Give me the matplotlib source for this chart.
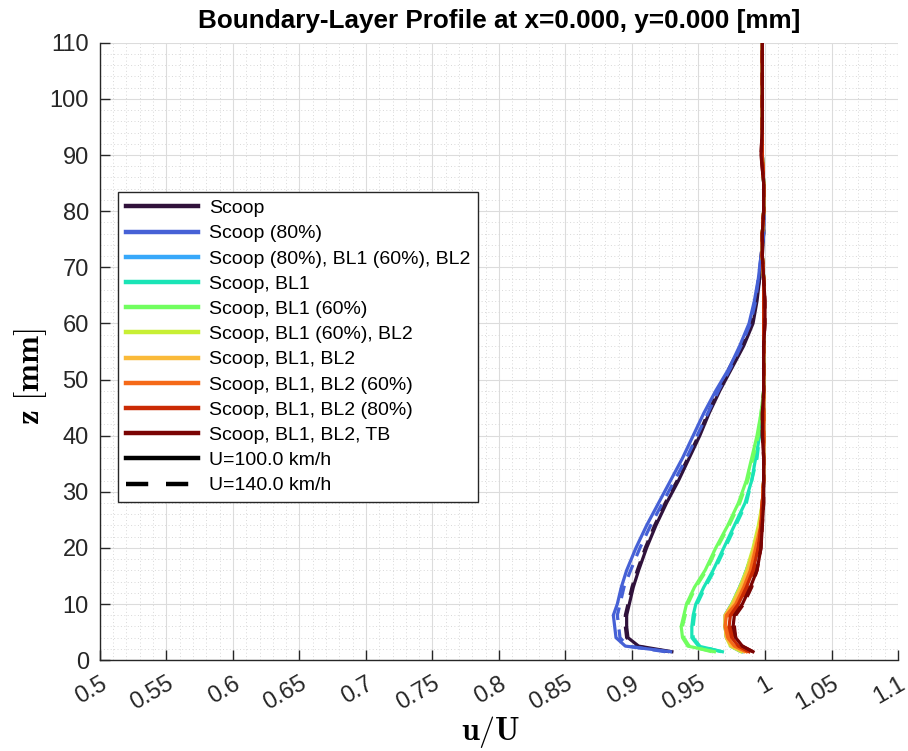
import numpy as np
import matplotlib
matplotlib.use("Agg")
import matplotlib.pyplot as plt
from matplotlib.lines import Line2D
from matplotlib.ticker import MultipleLocator

# ---------------- data ----------------
z_mm = [1.5, 2.5, 4, 6, 8, 10, 13, 16, 20, 24, 28, 32, 36, 40, 44, 48, 52, 56,
        60, 64, 68, 72, 76, 80, 85, 90, 95, 100, 105, 110]

configs = ["Scoop", "Scoop (80%)", "Scoop (80%), BL1 (60%), BL2", "Scoop, BL1",
           "Scoop, BL1 (60%)", "Scoop, BL1 (60%), BL2", "Scoop, BL1, BL2",
           "Scoop, BL1, BL2 (60%)", "Scoop, BL1, BL2 (80%)", "Scoop, BL1, BL2, TB"]
speeds = ["U=100.0 km/h", "U=140.0 km/h"]

scoop_100 = [0.930, 0.905, 0.897, 0.896, 0.896, 0.898, 0.901, 0.905, 0.911, 0.918, 0.926, 0.935, 0.943, 0.951, 0.958, 0.966, 0.975, 0.984,
             0.991, 0.994, 0.996, 0.998, 0.999, 0.999, 0.999, 0.998, 0.998, 0.998, 0.998, 0.998]
scoop_140 = [0.928, 0.903, 0.896, 0.895, 0.895, 0.897, 0.900, 0.904, 0.910, 0.917, 0.925, 0.934, 0.942, 0.950, 0.957, 0.965, 0.973, 0.982,
             0.990, 0.993, 0.996, 0.997, 0.999, 0.999, 0.999, 0.998, 0.998, 0.998, 0.998, 0.998]
scoop80_100 = [0.929, 0.895, 0.888, 0.887, 0.886, 0.889, 0.892, 0.896, 0.903, 0.911, 0.920, 0.929, 0.938, 0.946, 0.954, 0.963, 0.973, 0.981,
               0.988, 0.992, 0.995, 0.997, 0.999, 0.999, 0.999, 0.998, 0.998, 0.998, 0.998, 0.998]
scoop80_140 = [0.925, 0.897, 0.891, 0.890, 0.889, 0.891, 0.894, 0.899, 0.906, 0.914, 0.923, 0.932, 0.941, 0.949, 0.957, 0.965, 0.974, 0.982,
               0.989, 0.993, 0.995, 0.997, 0.999, 0.999, 0.999, 0.998, 0.998, 0.998, 0.998, 0.998]
scoop80_bl160_bl2_100 = [0.983, 0.975, 0.971, 0.970, 0.970, 0.975, 0.981, 0.986, 0.992, 0.996, 0.998, 0.999, 0.999, 0.999, 0.999, 0.999, 0.999, 0.999,
                         0.999, 0.999, 0.999, 0.998, 0.998, 0.999, 0.999, 0.998, 0.998, 0.998, 0.998, 0.998]
scoop80_bl160_bl2_140 = [0.982, 0.974, 0.971, 0.970, 0.970, 0.975, 0.981, 0.986, 0.992, 0.996, 0.998, 0.999, 0.999, 0.999, 0.999, 0.999, 0.999, 0.999,
                         0.999, 0.999, 0.999, 0.998, 0.998, 0.999, 0.999, 0.998, 0.998, 0.998, 0.998, 0.998]
scoop_bl1_100 = [0.968, 0.950, 0.945, 0.945, 0.946, 0.948, 0.954, 0.961, 0.969, 0.977, 0.985, 0.990, 0.993, 0.996, 0.998, 0.999, 0.999, 0.999,
                 0.999, 0.999, 0.999, 0.998, 0.998, 0.999, 0.999, 0.998, 0.998, 0.998, 0.998, 0.998]
scoop_bl1_140 = [0.967, 0.951, 0.946, 0.946, 0.947, 0.949, 0.955, 0.962, 0.970, 0.978, 0.986, 0.990, 0.994, 0.996, 0.998, 0.999, 0.999, 0.999,
                 0.999, 0.999, 0.999, 0.998, 0.998, 0.999, 0.999, 0.998, 0.998, 0.998, 0.998, 0.998]
scoop_bl160_100 = [0.962, 0.942, 0.938, 0.937, 0.939, 0.941, 0.947, 0.955, 0.963, 0.972, 0.980, 0.986, 0.990, 0.994, 0.997, 0.999, 0.999, 0.999,
                   0.999, 0.999, 0.999, 0.998, 0.998, 0.999, 0.999, 0.998, 0.998, 0.998, 0.998, 0.998]
scoop_bl160_140 = [0.960, 0.943, 0.939, 0.938, 0.940, 0.942, 0.948, 0.956, 0.964, 0.973, 0.981, 0.987, 0.991, 0.995, 0.997, 0.999, 0.999, 0.999,
                   0.999, 0.999, 0.999, 0.998, 0.998, 0.999, 0.999, 0.998, 0.998, 0.998, 0.998, 0.998]
scoop_bl160_bl2_100 = [0.982, 0.974, 0.971, 0.970, 0.970, 0.975, 0.981, 0.986, 0.991, 0.995, 0.998, 0.999, 0.999, 0.999, 0.999, 0.999, 0.999, 0.999,
                       0.999, 0.999, 0.999, 0.998, 0.998, 0.999, 0.999, 0.998, 0.998, 0.998, 0.998, 0.998]
scoop_bl160_bl2_140 = [0.983, 0.975, 0.971, 0.970, 0.971, 0.976, 0.982, 0.987, 0.992, 0.996, 0.998, 0.999, 0.999, 0.999, 0.999, 0.999, 0.999, 0.999,
                       0.999, 0.999, 0.999, 0.998, 0.998, 0.999, 0.999, 0.998, 0.998, 0.998, 0.998, 0.998]
scoop_bl1_bl2_100 = [0.984, 0.975, 0.971, 0.970, 0.970, 0.976, 0.982, 0.987, 0.992, 0.996, 0.998, 0.999, 0.999, 0.999, 0.999, 0.999, 0.999, 0.999,
                     0.999, 0.999, 0.999, 0.998, 0.998, 0.999, 0.999, 0.998, 0.998, 0.998, 0.998, 0.998]
scoop_bl1_bl2_140 = [0.985, 0.976, 0.972, 0.971, 0.971, 0.977, 0.983, 0.988, 0.993, 0.996, 0.998, 0.999, 0.999, 0.999, 0.999, 0.999, 0.999, 0.999,
                     0.999, 0.999, 0.999, 0.998, 0.998, 0.999, 0.999, 0.998, 0.998, 0.998, 0.998, 0.998]
scoop_bl1_bl260_100 = [0.986, 0.977, 0.972, 0.970, 0.971, 0.978, 0.984, 0.989, 0.993, 0.997, 0.998, 0.999, 0.999, 0.999, 0.999, 0.999, 0.999, 0.999,
                       0.999, 0.999, 0.999, 0.998, 0.998, 0.999, 0.999, 0.998, 0.998, 0.998, 0.998, 0.998]
scoop_bl1_bl260_140 = [0.987, 0.978, 0.973, 0.971, 0.972, 0.979, 0.985, 0.990, 0.994, 0.997, 0.998, 0.999, 0.999, 0.999, 0.999, 0.999, 0.999, 0.999,
                       0.999, 0.999, 0.999, 0.998, 0.998, 0.999, 0.999, 0.998, 0.998, 0.998, 0.998, 0.998]
scoop_bl1_bl280_100 = [0.988, 0.980, 0.975, 0.973, 0.974, 0.980, 0.986, 0.991, 0.995, 0.997, 0.998, 0.999, 0.999, 0.999, 0.999, 0.999, 0.999, 0.999,
                       0.999, 0.999, 0.999, 0.998, 0.998, 0.999, 0.999, 0.998, 0.998, 0.998, 0.998, 0.998]
scoop_bl1_bl280_140 = [0.989, 0.981, 0.976, 0.974, 0.975, 0.981, 0.987, 0.992, 0.995, 0.997, 0.998, 0.999, 0.999, 0.999, 0.999, 0.999, 0.999, 0.999,
                       0.999, 0.999, 0.999, 0.998, 0.998, 0.999, 0.999, 0.998, 0.998, 0.998, 0.998, 0.998]
scoop_bl1_bl2_tb_100 = [0.991, 0.983, 0.978, 0.976, 0.977, 0.983, 0.989, 0.994, 0.997, 0.998, 0.999, 0.999, 0.999, 0.998, 0.998, 0.999, 0.999, 0.999,
                        1.000, 1.000, 0.999, 0.998, 0.998, 0.999, 0.999, 0.997, 0.998, 0.998, 0.998, 0.998]
scoop_bl1_bl2_tb_140 = [0.991, 0.983, 0.978, 0.977, 0.978, 0.984, 0.990, 0.994, 0.997, 0.998, 0.999, 0.999, 0.999, 0.998, 0.998, 0.999, 0.999, 0.999,
                        1.000, 1.000, 0.999, 0.998, 0.998, 0.999, 0.999, 0.997, 0.998, 0.998, 0.998, 0.998]

profiles = [
    (scoop_100, scoop_140),
    (scoop80_100, scoop80_140),
    (scoop80_bl160_bl2_100, scoop80_bl160_bl2_140),
    (scoop_bl1_100, scoop_bl1_140),
    (scoop_bl160_100, scoop_bl160_140),
    (scoop_bl160_bl2_100, scoop_bl160_bl2_140),
    (scoop_bl1_bl2_100, scoop_bl1_bl2_140),
    (scoop_bl1_bl260_100, scoop_bl1_bl260_140),
    (scoop_bl1_bl280_100, scoop_bl1_bl280_140),
    (scoop_bl1_bl2_tb_100, scoop_bl1_bl2_tb_140),
]

x_ticks = [0.5, 0.55, 0.6, 0.65, 0.7, 0.75, 0.8, 0.85, 0.9, 0.95, 1.0, 1.05, 1.1]
x_tick_labels = ["0.5", "0.55", "0.6", "0.65", "0.7", "0.75", "0.8", "0.85", "0.9", "0.95", "1", "1.05", "1.1"]
y_ticks = [0, 10, 20, 30, 40, 50, 60, 70, 80, 90, 100, 110]

# ---------------- figure ----------------
plt.rcParams["font.family"] = ["Liberation Sans", "DejaVu Sans"]
plt.rcParams["mathtext.fontset"] = "cm"

fig = plt.figure(figsize=(9.08, 7.51), dpi=100)
ax = fig.add_axes([0.110, 0.121, 0.879, 0.822])

colors = plt.cm.turbo(np.linspace(0, 1, len(configs)))
lw = 2.3
for (u100, u140), c in zip(profiles, colors):
    ax.plot(u100, z_mm, color=c, lw=lw, ls="-", solid_joinstyle="round")
    ax.plot(u140, z_mm, color=c, lw=lw, ls=(0, (4, 3)))

ax.set_xlim(0.5, 1.1)
ax.set_ylim(0, 110)
ax.set_xticks(x_ticks)
ax.set_xticklabels(x_tick_labels, rotation=30, ha="right", rotation_mode="anchor")
ax.set_yticks(y_ticks)
ax.xaxis.set_minor_locator(MultipleLocator(0.01))
ax.yaxis.set_minor_locator(MultipleLocator(2))

ax.grid(True, which="major", color="#dcdcdc", lw=0.8, ls="-")
ax.grid(True, which="minor", color="#d8d8d8", lw=0.7, ls=(0, (1, 2.5)))
ax.set_axisbelow(True)

for s in ["top", "right"]:
    ax.spines[s].set_visible(False)
for s in ["left", "bottom"]:
    ax.spines[s].set_color("#262626")
    ax.spines[s].set_linewidth(1.0)

ax.tick_params(which="major", direction="in", length=7, width=1.0, colors="#262626",
               labelsize=17, labelcolor="#262626")
ax.tick_params(which="minor", length=0)
ax.tick_params(axis="x", pad=9)
ax.tick_params(axis="y", pad=8)

ax.set_title("Boundary-Layer Profile at x=0.000, y=0.000 [mm]", fontsize=18.8,
             fontweight="bold", color="black", pad=11)
ax.set_xlabel(r"$\mathbf{u/U}$", fontsize=23)
ax.set_ylabel(r"$\mathbf{z}\ [\mathbf{mm}]$", fontsize=24)
ax.xaxis.set_label_coords(0.489, -0.117, transform=ax.transAxes)
ax.yaxis.set_label_coords(-0.0865, 0.459, transform=ax.transAxes)
ax.xaxis.label.set_va("center")
ax.yaxis.label.set_va("center")

handles = [Line2D([0], [0], color=c, lw=3.2) for c in colors]
handles += [Line2D([0], [0], color="black", lw=3.2, ls="-"),
            Line2D([0], [0], color="black", lw=3.2, ls=(0, (5, 4)))]
labels = configs + speeds
leg = ax.legend(handles, labels, loc="upper left", bbox_to_anchor=(0.0226, 0.7585),
                fontsize=14, frameon=True, fancybox=False, framealpha=1,
                edgecolor="#262626", handlelength=3.7, handletextpad=0.6,
                labelspacing=0.39, borderpad=0.4, borderaxespad=0)
leg.get_frame().set_linewidth(1.0)

fig.savefig("out.png", dpi=100)
